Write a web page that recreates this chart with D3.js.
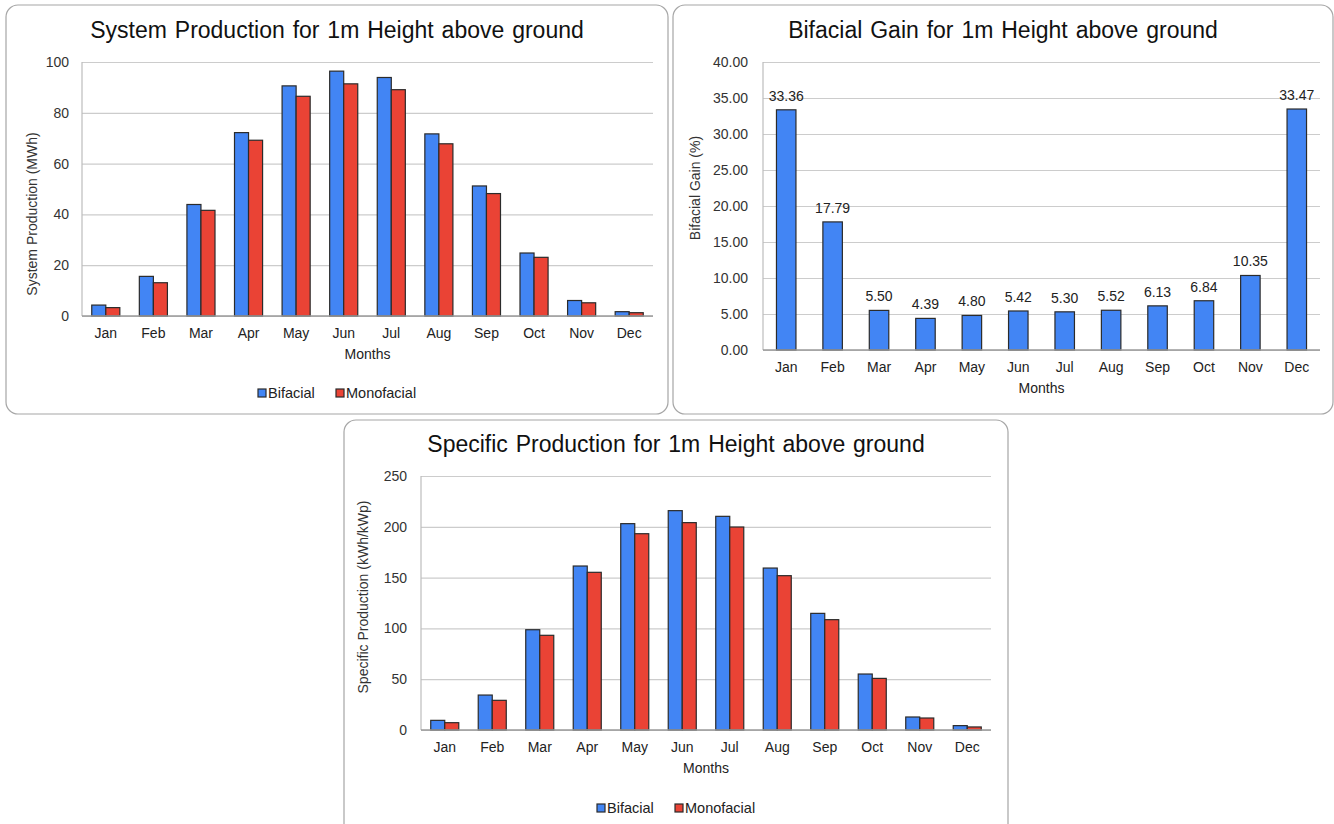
<!DOCTYPE html>
<html>
<head>
<meta charset="utf-8">
<script src="https://cdn.jsdelivr.net/npm/d3@7"></script>
<style>
  html, body { margin: 0; padding: 0; background: #ffffff; }
  svg { display: block; font-family: Arial, "Liberation Sans", sans-serif; }
</style>
</head>
<body>
<svg id="page" width="1334" height="824"></svg>
<script>
// Month categories shared by all three charts
const months = ["Jan", "Feb", "Mar", "Apr", "May", "Jun", "Jul", "Aug", "Sep", "Oct", "Nov", "Dec"];

// System production (MWh)
const systemBifacial   = [4.3, 15.6, 43.9, 72.2, 90.6, 96.4, 93.9, 71.7, 51.2, 24.8, 6.1, 1.7];
const systemMonofacial = [3.3, 13.1, 41.6, 69.2, 86.5, 91.4, 89.1, 67.8, 48.2, 23.1, 5.2, 1.3];
const systemTicks = [0, 20, 40, 60, 80, 100];

// Bifacial gain (%)
const gainValues = [33.36, 17.79, 5.50, 4.39, 4.80, 5.42, 5.30, 5.52, 6.13, 6.84, 10.35, 33.47];
const gainTicks = [0, 5, 10, 15, 20, 25, 30, 35, 40];

// Specific production (kWh/kWp)
const specificBifacial   = [9.5, 34.4, 98.7, 161.4, 203.1, 215.9, 210.3, 159.4, 114.8, 55.1, 12.8, 4.3];
const specificMonofacial = [7.2, 29.2, 93.2, 155.2, 193.2, 204.1, 199.8, 151.9, 108.6, 50.8, 11.8, 3.0];
const specificTicks = [0, 50, 100, 150, 200, 250];

const seriesNames = ["Bifacial", "Monofacial"];
const seriesColors = ["#4285f4", "#ea4335"];

const svg = d3.select("#page");
const TEXT = "#222222";
const TICK_TEXT = "#333333";

function panel(box) {
  svg.append("rect")
    .attr("x", box.x).attr("y", box.y)
    .attr("width", box.w).attr("height", box.h)
    .attr("rx", 12).attr("ry", 12)
    .attr("fill", "#ffffff")
    .attr("stroke", "#a6a6a6")
    .attr("stroke-width", 1.2);
}

function drawChart(cfg) {
  panel(cfg.box);
  const g = svg.append("g");
  const p = cfg.plot;

  // title
  g.append("text")
    .attr("x", cfg.box.x + cfg.box.w / 2)
    .attr("y", cfg.titleY)
    .attr("text-anchor", "middle")
    .attr("font-size", 23)
    .attr("word-spacing", 1.5)
    .attr("fill", "#111")
    .text(cfg.title);

  const x = d3.scaleBand()
    .domain(months)
    .range([p.x0, p.x1])
    .paddingInner(cfg.padInner)
    .paddingOuter(cfg.padInner / 2);

  const y = d3.scaleLinear()
    .domain([0, d3.max(cfg.ticks)])
    .range([p.y1, p.y0]);

  // horizontal gridlines + tick labels via d3 axis
  const yAxis = d3.axisLeft(y)
    .tickValues(cfg.ticks)
    .tickSize(-(p.x1 - p.x0))
    .tickPadding(cfg.tickPad)
    .tickFormat(cfg.tickFormat);

  const ya = g.append("g")
    .attr("transform", `translate(${p.x0},0)`)
    .call(yAxis);
  ya.select(".domain").remove();
  ya.selectAll(".tick line")
    .attr("stroke", "#cccccc")
    .attr("stroke-width", 1.2);
  ya.selectAll(".tick text")
    .attr("font-size", 14)
    .attr("font-family", "Arial, 'Liberation Sans', sans-serif")
    .attr("fill", TICK_TEXT);

  // left axis line
  g.append("line")
    .attr("x1", p.x0).attr("x2", p.x0)
    .attr("y1", p.y0).attr("y2", p.y1)
    .attr("stroke", "#bdbdbd").attr("stroke-width", 1.2);

  // bars
  const series = cfg.series;
  const inner = d3.scaleBand()
    .domain(d3.range(series.length))
    .range([0, x.bandwidth()]);

  series.forEach((vals, si) => {
    g.append("g").selectAll("rect")
      .data(vals)
      .join("rect")
      .attr("x", (d, i) => x(months[i]) + inner(si))
      .attr("y", d => y(d))
      .attr("width", inner.bandwidth())
      .attr("height", d => y(0) - y(d))
      .attr("fill", seriesColors[si])
      .attr("stroke", "#2b2b2b")
      .attr("stroke-width", 1.2);
  });

  // value labels
  if (cfg.labels) {
    g.append("g").selectAll("text")
      .data(series[0])
      .join("text")
      .attr("x", (d, i) => x(months[i]) + x.bandwidth() / 2)
      .attr("y", d => y(d) - 9)
      .attr("text-anchor", "middle")
      .attr("font-size", 14)
      .attr("fill", TEXT)
      .text(d => d.toFixed(2));
  }

  // baseline
  g.append("line")
    .attr("x1", p.x0).attr("x2", p.x1)
    .attr("y1", y(0)).attr("y2", y(0))
    .attr("stroke", "#9a9a9a").attr("stroke-width", 1.5);

  // month labels
  const xAxis = d3.axisBottom(x).tickSize(0).tickPadding(0);
  const xa = g.append("g")
    .attr("transform", `translate(0,${p.y1})`)
    .call(xAxis);
  xa.select(".domain").remove();
  xa.selectAll(".tick text")
    .attr("dy", null)
    .attr("y", 22)
    .attr("font-size", 14)
    .attr("font-family", "Arial, 'Liberation Sans', sans-serif")
    .attr("fill", TEXT);

  // x axis title
  g.append("text")
    .attr("x", (p.x0 + p.x1) / 2)
    .attr("y", p.y1 + 43)
    .attr("text-anchor", "middle")
    .attr("font-size", 14)
    .attr("fill", TEXT)
    .text("Months");

  // y axis title
  g.append("text")
    .attr("transform", `translate(${cfg.yTitle.x},${cfg.yTitle.y}) rotate(-90)`)
    .attr("text-anchor", "middle")
    .attr("font-size", 14)
    .attr("fill", "#333")
    .text(cfg.yTitle.text);

  // legend
  if (cfg.legendY) {
    const cx = cfg.box.x + cfg.box.w / 2;
    const lg = g.append("g").attr("transform", `translate(${cx - 79},${cfg.legendY})`);
    const offsets = [0, 78];
    seriesNames.forEach((name, i) => {
      lg.append("rect")
        .attr("x", offsets[i]).attr("y", -4)
        .attr("width", 8).attr("height", 8)
        .attr("fill", seriesColors[i])
        .attr("stroke", "#2b2b2b").attr("stroke-width", 1.2);
      lg.append("text")
        .attr("x", offsets[i] + 10).attr("y", 5)
        .attr("font-size", 14.5)
        .attr("fill", TEXT)
        .text(name);
    });
  }
}

drawChart({
  box: { x: 6, y: 5, w: 662, h: 409 },
  title: "System Production for 1m Height above ground",
  titleY: 38,
  plot: { x0: 82, x1: 653, y0: 62, y1: 316 },
  padInner: 0.41,
  ticks: systemTicks,
  tickFormat: d3.format("d"),
  tickPad: 13,
  series: [systemBifacial, systemMonofacial],
  labels: false,
  yTitle: { x: 37, y: 214, text: "System Production  (MWh)" },
  legendY: 393
});

drawChart({
  box: { x: 673, y: 5, w: 660, h: 409 },
  title: "Bifacial Gain for 1m Height above ground",
  titleY: 38,
  plot: { x0: 763, x1: 1320, y0: 62, y1: 350 },
  padInner: 0.58,
  ticks: gainTicks,
  tickFormat: d3.format(".2f"),
  tickPad: 15,
  series: [gainValues],
  labels: true,
  yTitle: { x: 700, y: 188, text: "Bifacial Gain  (%)" },
  legendY: null
});

drawChart({
  box: { x: 344, y: 420, w: 664, h: 420 },
  title: "Specific Production for 1m Height above ground",
  titleY: 452,
  plot: { x0: 421, x1: 991, y0: 476, y1: 730 },
  padInner: 0.41,
  ticks: specificTicks,
  tickFormat: d3.format("d"),
  tickPad: 14,
  series: [specificBifacial, specificMonofacial],
  labels: false,
  yTitle: { x: 368, y: 597, text: "Specific Production  (kWh/kWp)" },
  legendY: 808
});
</script>
</body>
</html>
